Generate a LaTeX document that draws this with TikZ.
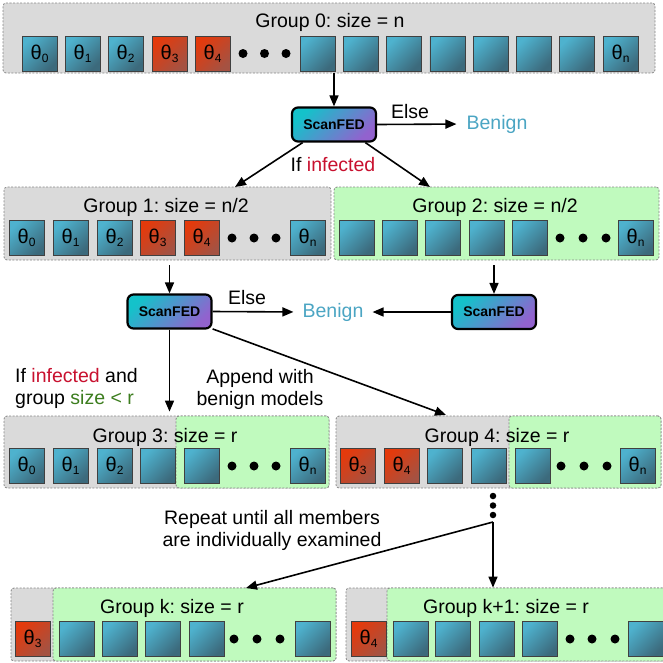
\documentclass[tikz,border=0pt]{standalone}
\usepackage{fontspec}
\setmainfont{Liberation Sans}
\usetikzlibrary{arrows.meta}
\frenchspacing
\definecolor{mbl}{RGB}{78,178,206}
\definecolor{mbd}{RGB}{60,106,124}
\definecolor{mrl}{RGB}{228,58,12}
\definecolor{mrd}{RGB}{165,82,66}
\definecolor{sfl}{RGB}{20,194,202}
\definecolor{sfd}{RGB}{146,98,206}
\definecolor{grayfill}{RGB}{218,218,218}
\definecolor{greenfill}{RGB}{192,250,190}
\definecolor{boxline}{RGB}{135,135,135}
\definecolor{benign}{RGB}{75,165,195}
\definecolor{infred}{RGB}{200,16,46}
\definecolor{sizegreen}{RGB}{60,125,30}
\newcommand{\mth}[1]{θ\kern0.2pt\raisebox{-3pt}{\fontsize{12}{12}\selectfont #1}}
\tikzset{
  every node/.style={font=\fontsize{19.5}{22}\selectfont},
  mb/.style={draw=black!75, line width=0.7pt, minimum width=35pt, minimum height=35pt,
    inner sep=0pt, top color=mbl, bottom color=mbd, shading angle=45, font=\fontsize{20}{20}\selectfont},
  mr/.style={mb, top color=mrl, bottom color=mrd, shading angle=45},
  gbox/.style={draw=boxline, fill=grayfill, line width=0.8pt, dash pattern=on 2pt off 1.5pt,
    rounded corners=3pt, inner sep=0pt},
  grbox/.style={gbox, fill=greenfill},
  scan/.style={draw=black, line width=2.2pt, rounded corners=6pt, minimum width=84pt, minimum height=34pt,
    top color=sfl, bottom color=sfd, shading angle=45, font=\fontsize{14}{14}\selectfont\bfseries},
  bigdot/.style={circle, fill=black, inner sep=0pt, minimum size=9pt},
  vdot/.style={circle, fill=black, inner sep=0pt, minimum size=6.5pt},
  arr/.style={line width=1.6pt, -{Triangle[length=11pt,width=9pt]}},
  lbl/.style={inner sep=0pt},
}
\begin{document}
\begin{tikzpicture}[x=1pt,y=-1pt]
\useasboundingbox (0,0) rectangle (663,662);
\clip (0,0) rectangle (663,662);

% ---------- Group 0 ----------
\node[gbox, minimum width=652pt, minimum height=70pt] (g0) at (329,38) {};
\node[lbl] (g0t) at (330,22) {Group 0: size = n};
\node[mb] (g0a) at (39.5,53.5) {\mth{0}};
\node[mb] (g0b) at (82.5,53.5) {\mth{1}};
\node[mb] (g0c) at (125.5,53.5) {\mth{2}};
\node[mr] (g0d) at (169.5,53.5) {\mth{3}};
\node[mr] (g0e) at (212.5,53.5) {\mth{4}};
\foreach \x [count=\i] in {243,264.5,286} \node[bigdot] (g0dot\i) at (\x,53.5) {};
\foreach \x [count=\i] in {317.5,360.8,404.1,447.4,490.7,534,577.3} \node[mb] (g0r\i) at (\x,53.5) {};
\node[mb] (g0n) at (620.6,53.5) {\mth{n}};

% ---------- ScanFED 1 ----------
\node[scan] (s1) at (334,124.5) {ScanFED};
\node[lbl, text=benign] (b1) at (497,124) {Benign};
\node[lbl] (else1) at (410,112) {Else};
\node[lbl] (ifinf) at (333,165) {If \textcolor{infred}{infected}};
\coordinate (g1in) at (235,187);
\coordinate (g2in) at (430,187);

% ---------- Group 1 / 2 ----------
\node[gbox, minimum width=327pt, minimum height=73pt] (g1) at (167.5,223.5) {};
\node[grbox, minimum width=325pt, minimum height=73pt] (g2) at (496.5,223.5) {};
\node[lbl] (g1t) at (166,207) {Group 1: size = n/2};
\node[lbl] (g2t) at (495,207) {Group 2: size = n/2};
\node[mb] (g1a) at (26.5,238) {\mth{0}};
\node[mb] (g1b) at (70.5,238) {\mth{1}};
\node[mb] (g1c) at (114.5,238) {\mth{2}};
\node[mr] (g1d) at (157.5,238) {\mth{3}};
\node[mr] (g1e) at (201.5,238) {\mth{4}};
\foreach \x [count=\i] in {232,254,276} \node[bigdot] (g1dot\i) at (\x,238) {};
\node[mb] (g1n) at (307.5,238) {\mth{n}};
\foreach \x [count=\i] in {356.5,399.5,443,486.5,530} \node[mb] (g2s\i) at (\x,238) {};
\foreach \x [count=\i] in {560,583,606} \node[bigdot] (g2dot\i) at (\x,238) {};
\node[mb] (g2n) at (635.5,238) {\mth{n}};

% ---------- ScanFED 2 / 3 ----------
\node[scan] (s2) at (169.5,311.5) {ScanFED};
\node[scan] (s3) at (494,312) {ScanFED};
\node[lbl, text=benign] (b2) at (333,312) {Benign};
\node[lbl] (else2) at (247,298) {Else};

% ---------- labels ----------
\node[lbl, anchor=west, align=left] (cond) at (15,388) {If \textcolor{infred}{infected} and\\group \textcolor{sizegreen}{size < r}};
\node[lbl, align=center] (app) at (260,389) {Append with\\benign models};
\coordinate (g4in) at (446,415);

% ---------- Group 3 / 4 ----------
\node[gbox, minimum width=325pt, minimum height=72pt] (g3) at (166.5,452) {};
\node[grbox, minimum width=153pt, minimum height=72pt] (g3g) at (252.5,452) {};
\node[lbl] (g3t) at (165,437) {Group 3: size = r};
\node[mb] (g3a) at (26.5,466) {\mth{0}};
\node[mb] (g3b) at (70.5,466) {\mth{1}};
\node[mb] (g3c) at (114.5,466) {\mth{2}};
\node[mb] (g3d) at (157.5,466) {};
\node[mb] (g3e) at (201.5,466) {};
\foreach \x [count=\i] in {232,254,276} \node[bigdot] (g3dot\i) at (\x,466) {};
\node[mb] (g3n) at (307.5,466) {\mth{n}};

\node[gbox, minimum width=325pt, minimum height=72pt] (g4) at (498.5,452) {};
\node[grbox, minimum width=152pt, minimum height=72pt] (g4g) at (585,452) {};
\node[lbl] (g4t) at (497,437) {Group 4: size = r};
\node[mr] (g4a) at (357.5,466) {\mth{3}};
\node[mr] (g4b) at (401.5,466) {\mth{4}};
\node[mb] (g4c) at (444.5,466) {};
\node[mb] (g4d) at (488.5,466) {};
\node[mb] (g4e) at (532.5,466) {};
\foreach \x [count=\i] in {561,584,607} \node[bigdot] (g4dot\i) at (\x,466) {};
\node[mb] (g4n) at (637.5,466) {\mth{n}};

% ---------- repeat ----------
\foreach \y [count=\i] in {496,505.5,515} \node[vdot] (vd\i) at (493,\y) {};
\coordinate (br) at (493,522);
\coordinate (gkin) at (246,588);
\node[lbl, align=center] (rep) at (272,530.5) {Repeat until all members\\are individually examined};

% ---------- Group k / k+1 ----------
\node[gbox, minimum width=325pt, minimum height=73pt] (gk) at (173.5,624.5) {};
\node[grbox, minimum width=283pt, minimum height=73pt] (gkg) at (194.5,624.5) {};
\node[lbl] (gkt) at (172,608) {Group k: size = r};
\node[mr] (gka) at (32.5,639) {\mth{3}};
\foreach \x [count=\i] in {76.5,119.5,162.5,206.5} \node[mb] (gks\i) at (\x,639) {};
\foreach \x [count=\i] in {234,257,280} \node[bigdot] (gkdot\i) at (\x,639) {};
\node[mb] (gkn) at (312.5,639) {};

\node[gbox, minimum width=330pt, minimum height=73pt] (gk1) at (511,624.5) {};
\node[grbox, minimum width=289pt, minimum height=73pt] (gk1g) at (531.5,624.5) {};
\node[lbl] (gk1t) at (506,608) {Group k+1: size = r};
\node[mr] (gk1a) at (368.5,639) {\mth{4}};
\foreach \x [count=\i] in {410.5,452.5,496.5,539.5} \node[mb] (gk1s\i) at (\x,639) {};
\foreach \x [count=\i] in {570,592,615} \node[bigdot] (gk1dot\i) at (\x,639) {};
\node[mb] (gk1n) at (645.5,639) {};

% ---------- connectors ----------
\draw[arr] (s1 |- g0.south) -- (s1.north);
\draw[arr, shorten >=10pt] (s1.east) -- (b1.west);
\draw[arr] (s1.210) -- (g1in);
\draw[arr] (s1.330) -- (g2in);
\draw[arr, shorten <=5pt] (s2 |- g1.south) -- (s2.north);
\draw[arr, shorten <=5pt] (s3 |- g2.south) -- (s3.north);
\draw[arr, shorten >=9pt] (s2.east) -- (b2.west);
\draw[arr, shorten >=9pt] (s3.west) -- (b2.east);
\draw[arr, shorten >=4pt] (s2.south) -- (s2 |- g3.north);
\draw[arr] (s2.-22) -- (g4in);
\draw[arr] (br) -- (gkin);
\draw[arr] (br) -- (br |- gk1.north);
\end{tikzpicture}
\end{document}
